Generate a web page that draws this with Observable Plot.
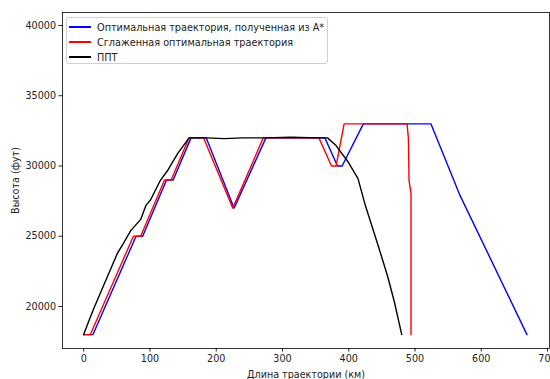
<!DOCTYPE html>
<html>
<head>
<meta charset="utf-8">
<script src="https://cdn.jsdelivr.net/npm/d3@7"></script>
<script src="https://cdn.jsdelivr.net/npm/@observablehq/plot@0.6"></script>
<style>
  html, body { margin: 0; padding: 0; background: #fff; }
  #wrap { position: relative; width: 550px; height: 379px; overflow: hidden; font-family: "DejaVu Sans", sans-serif; }
  #legend { position: absolute; left: 66px; top: 17px; width: 262px; height: 47px; box-sizing: border-box;
    border: 1px solid #d0d0d0; border-radius: 3px; background: rgba(255,255,255,0.85); font-size: 9.7px; color: #222; }
  .row { position: absolute; left: 2px; height: 14px; display: flex; align-items: center; }
  .sw { width: 22px; height: 1.5px; margin-right: 6px; }
</style>
</head>
<body>
<div id="wrap"></div>
<script>
// A* optimal trajectory [km, ft]
const astarX = [0, 14, 79, 89, 125, 135, 162, 185, 227, 275, 364, 383, 390, 422, 524, 567, 669];
const astarY = [18000, 18000, 25000, 25000, 29000, 29000, 32000, 32000, 27000, 32000, 32000, 30000, 30000, 33000, 33000, 28000, 18000];
// Smoothed optimal trajectory
const smoothX = [0, 10, 75, 86, 122, 132, 159, 181, 225, 271, 355, 374, 381, 393, 488, 490, 491, 494, 494];
const smoothY = [18000, 18000, 25000, 25000, 29000, 29000, 32000, 32000, 27000, 32000, 32000, 30000, 30000, 33000, 33000, 32000, 29000, 28000, 18000];
// ППТ
const pptX = [0, 8, 16, 31, 51, 60, 71, 86, 94, 101, 116, 127, 142, 159, 185, 212, 240, 272, 313, 355, 368, 380, 399, 414, 425, 444, 459, 469, 480];
const pptY = [18000, 19000, 19950, 21600, 23800, 24500, 25400, 26200, 27200, 27600, 29000, 29700, 30900, 32000, 32000, 31950, 32000, 32000, 32050, 32000, 32000, 31500, 30300, 29100, 27200, 24400, 22100, 20300, 18000];

const seriesNames = ["Оптимальная траектория, полученная из A*", "Сглаженная оптимальная траектория", "ППТ"];
const seriesColors = ["#0000ff", "#ff0000", "#000000"];
const xTicks = [0, 100, 200, 300, 400, 500, 600, 700];
const yTicks = [20000, 25000, 30000, 35000, 40000];

const toRows = (xs, ys) => xs.map((x, i) => ({x, y: ys[i]}));
const astar = toRows(astarX, astarY);
const smooth = toRows(smoothX, smoothY);
const ppt = toRows(pptX, pptY);

const chart = Plot.plot({
  width: 550,
  height: 379,
  marginLeft: 62,
  marginRight: 1,
  marginTop: 12,
  marginBottom: 31,
  style: { fontFamily: "DejaVu Sans, sans-serif", fontSize: "9.6px", color: "#222", background: "white", overflow: "visible" },
  x: { domain: [-32, 703], ticks: xTicks, tickFormat: d => String(d), label: "Длина траектории (км)", labelAnchor: "center", labelArrow: "none", labelOffset: 29, tickSize: 3.5, tickPadding: 3 },
  y: { domain: [17010, 40925], ticks: yTicks, tickFormat: d => String(d), label: "Высота (фут)", labelAnchor: "center", labelArrow: "none", labelOffset: 50, tickSize: 3.5, tickPadding: 3 },
  marks: [
    Plot.line(astar, {x: "x", y: "y", stroke: seriesColors[0], strokeWidth: 1.4}),
    Plot.line(smooth, {x: "x", y: "y", stroke: seriesColors[1], strokeWidth: 1.4}),
    Plot.line(ppt, {x: "x", y: "y", stroke: seriesColors[2], strokeWidth: 1.4}),
    Plot.frame({stroke: "black", strokeWidth: 0.8})
  ]
});
const wrap = document.getElementById("wrap");
wrap.appendChild(chart);

const legend = document.createElement("div");
legend.id = "legend";
seriesNames.forEach((name, i) => {
  const row = document.createElement("div");
  row.className = "row";
  row.style.top = (2 + i * 15) + "px";
  const sw = document.createElement("div");
  sw.className = "sw";
  sw.style.backgroundColor = seriesColors[i];
  const t = document.createElement("span");
  t.textContent = name;
  row.appendChild(sw);
  row.appendChild(t);
  legend.appendChild(row);
});
wrap.appendChild(legend);
</script>
</body>
</html>
